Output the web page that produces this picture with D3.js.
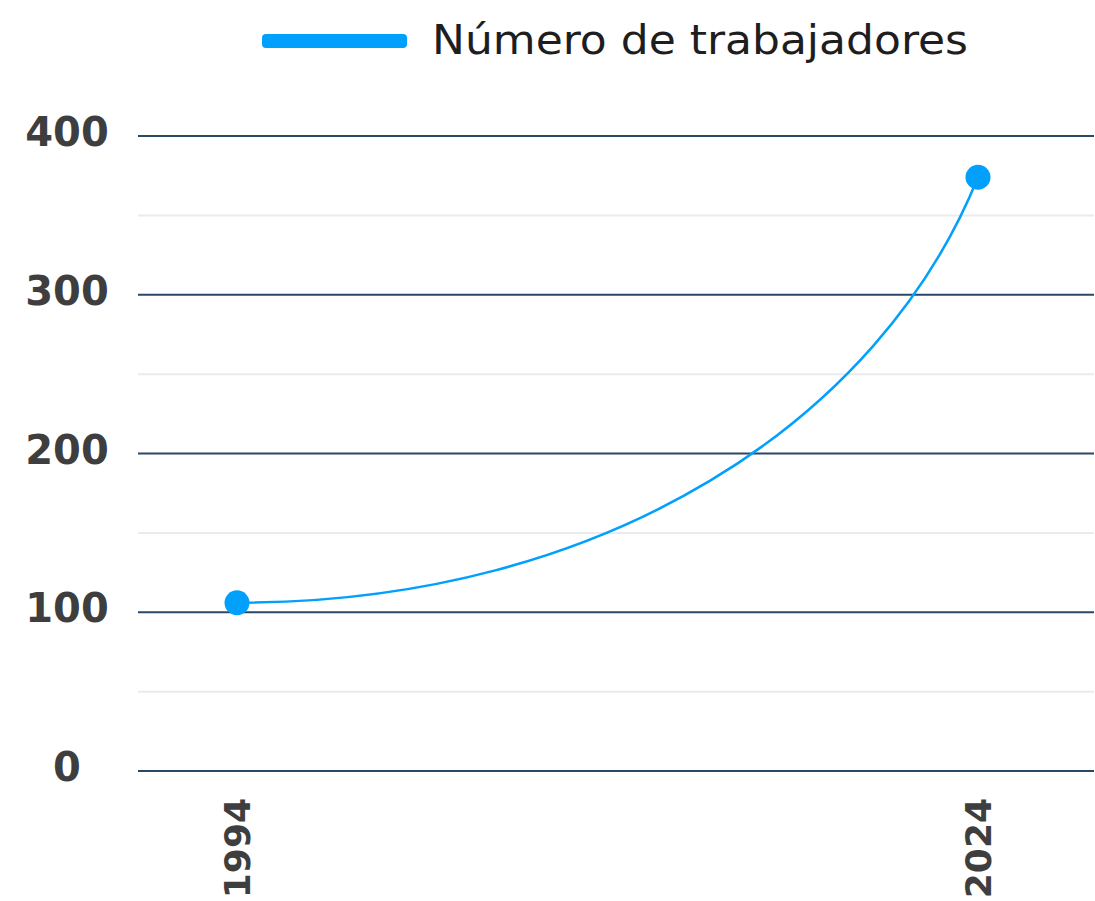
<!DOCTYPE html>
<html>
<head>
<meta charset="utf-8">
<script src="https://cdn.jsdelivr.net/npm/d3@7"></script>
<style>
  body { margin: 0; background: #fff; }
  svg { display: block; }
</style>
</head>
<body>
<div id="chart"></div>
<script>
// data
const years = [1994, 2024];
const workers = [106, 374];
const yTicks = [0, 100, 200, 300, 400];
const yMinorTicks = [50, 150, 250, 350];
const seriesName = "Número de trabajadores";

const width = 1095;
const height = 901;
const margin = { top: 136, right: 1, bottom: 130, left: 138 };
const innerWidth = width - margin.left - margin.right;
const innerHeight = height - margin.top - margin.bottom;

const blue = "#00a0fc";
const gridDark = "#2b4768";
const gridLight = "#e9ebee";
const tickColor = "#3e3e3e";

const svg = d3.select("#chart")
    .append("svg")
    .attr("width", width)
    .attr("height", height);

const inner = svg.append("g")
    .attr("transform", `translate(${margin.left},${margin.top})`);

const xScale = d3.scalePoint()
    .domain(years)
    .range([99, 840]);

const yScale = d3.scaleLinear()
    .domain([0, 400])
    .range([innerHeight, 0]);

// minor gridlines
inner.selectAll(".minor")
    .data(yMinorTicks)
    .join("line")
    .attr("class", "minor")
    .attr("x1", 0)
    .attr("x2", innerWidth)
    .attr("y1", d => yScale(d))
    .attr("y2", d => yScale(d))
    .attr("stroke", gridLight)
    .attr("stroke-width", 2);

// major gridlines
inner.selectAll(".major")
    .data(yTicks)
    .join("line")
    .attr("class", "major")
    .attr("x1", 0)
    .attr("x2", innerWidth)
    .attr("y1", d => yScale(d))
    .attr("y2", d => yScale(d))
    .attr("stroke", gridDark)
    .attr("stroke-width", 2);

// y axis labels (centred under each other)
inner.selectAll(".ylab")
    .data(yTicks)
    .join("text")
    .attr("class", "ylab")
    .attr("x", -71)
    .attr("y", d => yScale(d) + 10)
    .attr("text-anchor", "middle")
    .attr("font-family", "DejaVu Sans")
    .attr("font-weight", "bold")
    .attr("font-size", 40)
    .attr("fill", tickColor)
    .text(d => d);

// x axis labels, rotated
inner.selectAll(".xlab")
    .data(years)
    .join("text")
    .attr("class", "xlab")
    .attr("transform", d => `translate(${xScale(d)},${innerHeight + 27}) rotate(-90)`)
    .attr("dy", "0.36em")
    .attr("text-anchor", "end")
    .attr("font-family", "DejaVu Sans")
    .attr("font-weight", "bold")
    .attr("font-size", 36)
    .attr("fill", tickColor)
    .text(d => d);

// smooth rising curve between consecutive points (flat start, steep end)
function curveRise(context) {
    let x0, y0, n;
    return {
        lineStart() { n = 0; },
        lineEnd() {},
        areaStart() {},
        areaEnd() {},
        point(x, y) {
            if (n === 0) {
                context.moveTo(x, y);
            } else {
                const dx = x - x0, dy = y - y0;
                context.bezierCurveTo(
                    x0 + dx * 0.5, y0,
                    x - dx * 0.132, y - dy * 0.57,
                    x, y);
            }
            x0 = x; y0 = y; n++;
        }
    };
}

const points = years.map((y, i) => ({ year: y, value: workers[i] }));

const line = d3.line()
    .x(d => xScale(d.year))
    .y(d => yScale(d.value))
    .curve(curveRise);

inner.append("path")
    .datum(points)
    .attr("d", line)
    .attr("fill", "none")
    .attr("stroke", blue)
    .attr("stroke-width", 2.5);

inner.selectAll(".dot")
    .data(points)
    .join("circle")
    .attr("class", "dot")
    .attr("cx", d => xScale(d.year))
    .attr("cy", d => yScale(d.value))
    .attr("r", 12.5)
    .attr("fill", blue);

// legend
const legend = svg.append("g").attr("transform", "translate(262,41)");
legend.append("rect")
    .attr("x", 0)
    .attr("y", -7)
    .attr("width", 145)
    .attr("height", 14)
    .attr("rx", 4)
    .attr("fill", blue);
legend.append("text")
    .attr("x", 170)
    .attr("y", 13)
    .attr("font-family", "DejaVu Sans")
    .attr("font-size", 40)
    .attr("fill", "#1e1e1e")
    .attr("textLength", 536)
    .attr("lengthAdjust", "spacingAndGlyphs")
    .text(seriesName);
</script>
</body>
</html>
